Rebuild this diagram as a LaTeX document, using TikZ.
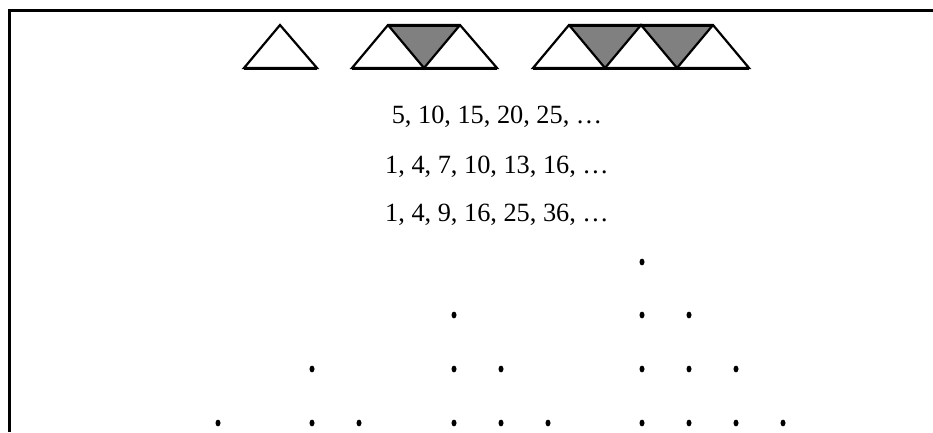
\documentclass[tikz,border=0pt]{standalone}
\usepackage{fontspec}
\setmainfont{Liberation Serif}
\begin{document}
\begin{tikzpicture}[x=1pt,y=-1pt,
  frameline/.style={line width=3pt},
  triline/.style={draw=black,line width=2.2pt,line join=miter},
  baseline/.style={draw=black,line width=3pt},
  shade/.style={fill=black!50},
  seq/.style={font=\fontsize{26.3}{30}\selectfont,anchor=base,inner sep=0pt},
  dotmark/.style={fill=black}]
\useasboundingbox (0,0) rectangle (933,432);
\fill[white] (0,0) rectangle (933,432);
\draw[frameline] (9,432) -- (9,10) -- (933,10);
% triangle 1
\draw[triline] (244,68) -- (280,25) -- (317,68) -- cycle;
\draw[baseline] (244,68) -- (317,68);
% group 2
\fill[shade] (388,25) -- (460,25) -- (424,68) -- cycle;
\draw[triline] (352,68) -- (497,68) -- (460,25) -- (388,25) -- cycle;
\draw[triline] (388,25) -- (424,68) -- (460,25);
\draw[baseline] (352,68) -- (497,68);
\draw[baseline] (388,25) -- (460,25);
% group 3
\fill[shade] (569,25) -- (641,25) -- (605,68) -- cycle;
\fill[shade] (641,25) -- (713,25) -- (677,68) -- cycle;
\draw[triline] (533,68) -- (749,68) -- (713,25) -- (569,25) -- cycle;
\draw[triline] (569,25) -- (605,68) -- (641,25) -- (677,68) -- (713,25);
\draw[baseline] (533,68) -- (749,68);
\draw[baseline] (569,25) -- (713,25);
% sequences
\node[seq] (s1) at (497,123) {5, 10, 15, 20, 25, …};
\node[seq] (s2) at (497,173) {1, 4, 7, 10, 13, 16, …};
\node[seq] (s3) at (497,221) {1, 4, 9, 16, 25, 36, …};
% dots
\foreach \p in {(218,423),
  (312,369),(312,423),(359,423),
  (454,315),(454,369),(501,369),(454,423),(501,423),(548,423),
  (642,262),(642,315),(689,315),(642,369),(689,369),(736,369),
  (642,423),(689,423),(736,423),(783,423)}
  \fill[dotmark] \p ellipse [x radius=2.5pt, y radius=3.4pt];
\end{tikzpicture}
\end{document}
